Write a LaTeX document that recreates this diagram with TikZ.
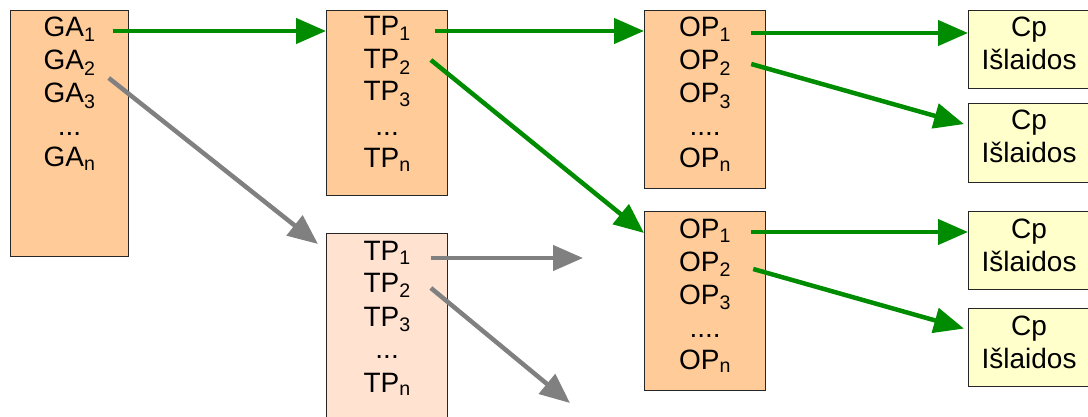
\documentclass[tikz,border=0pt]{standalone}
\usepackage{fontspec}
\setmainfont{Liberation Sans}
\usetikzlibrary{arrows.meta,positioning,calc}
\definecolor{peach}{HTML}{FFCC99}
\definecolor{palepeach}{HTML}{FFE2D0}
\definecolor{paleyel}{HTML}{FFFFCC}
\definecolor{arrgreen}{HTML}{008C00}
\definecolor{arrgray}{HTML}{808080}

\begin{document}
\begin{tikzpicture}[x=1pt,y=-1pt,
  box/.style={draw=black!85,line width=1.2pt,anchor=north west,inner sep=0pt,minimum width=121pt},
  txt/.style={anchor=base,inner sep=0pt,font=\fontsize{28}{32}\selectfont},
  garr/.style={draw=arrgreen,line width=4.5pt,-{Triangle[length=30pt,width=25pt]}},
  grarr/.style={garr,draw=arrgray}]
\useasboundingbox (0,0) rectangle (1088,417);
% GA column
\node[box,fill=peach,minimum width=118pt,minimum height=246pt] (ga) at (10,10) {};
\node[txt] (ga1) at ($(ga.north)+(0,27)$) {GA\textsubscript{1}};\node[txt] (ga2) at ($(ga.north)+(0,60)$) {GA\textsubscript{2}};
\node[txt] (ga3) at ($(ga.north)+(0,93)$) {GA\textsubscript{3}};\node[txt] (gad) at ($(ga.north)+(0,126)$) {...};
\node[txt] (gan) at ($(ga.north)+(0,157)$) {GA\textsubscript{n}};
% TP columns
\node[box,fill=peach,minimum height=185pt] (tpa) at (326,10) {};
\node[txt] (tpa1) at ($(tpa.north)+(0,26)$) {TP\textsubscript{1}};\node[txt] (tpa2) at ($(tpa.north)+(0,59)$) {TP\textsubscript{2}};
\node[txt] (tpa3) at ($(tpa.north)+(0,91)$) {TP\textsubscript{3}};\node[txt] (tpad) at ($(tpa.north)+(0,126)$) {...};
\node[txt] (tpan) at ($(tpa.north)+(0,158)$) {TP\textsubscript{n}};
\node[box,fill=palepeach,minimum height=184pt] (tpb) at (326,233) {};
\node[txt] (tpb1) at ($(tpb.north)+(0,27)$) {TP\textsubscript{1}};\node[txt] (tpb2) at ($(tpb.north)+(0,59)$) {TP\textsubscript{2}};
\node[txt] (tpb3) at ($(tpb.north)+(0,93)$) {TP\textsubscript{3}};\node[txt] (tpbd) at ($(tpb.north)+(0,125)$) {...};
\node[txt] (tpbn) at ($(tpb.north)+(0,159)$) {TP\textsubscript{n}};
% OP columns
\node[box,fill=peach,minimum height=178pt] (opa) at (644,10) {};
\node[txt] (opa1) at ($(opa.north)+(0,27)$) {OP\textsubscript{1}};\node[txt] (opa2) at ($(opa.north)+(0,60)$) {OP\textsubscript{2}};
\node[txt] (opa3) at ($(opa.north)+(0,93)$) {OP\textsubscript{3}};\node[txt] (opad) at ($(opa.north)+(0,126)$) {....};
\node[txt] (opan) at ($(opa.north)+(0,158)$) {OP\textsubscript{n}};
\node[box,fill=peach,minimum height=179pt] (opb) at (644,211) {};
\node[txt] (opb1) at ($(opb.north)+(0,27)$) {OP\textsubscript{1}};\node[txt] (opb2) at ($(opb.north)+(0,60)$) {OP\textsubscript{2}};
\node[txt] (opb3) at ($(opb.north)+(0,93)$) {OP\textsubscript{3}};\node[txt] (opbd) at ($(opb.north)+(0,126)$) {....};
\node[txt] (opbn) at ($(opb.north)+(0,158)$) {OP\textsubscript{n}};
% Cp boxes
\node[box,fill=paleyel,minimum height=78pt] (cpa) at (968,10) {};\node[box,fill=paleyel,minimum height=79pt] (cpb) at (968,103) {};
\node[box,fill=paleyel,minimum height=78pt] (cpc) at (968,211) {};\node[box,fill=paleyel,minimum height=78pt] (cpd) at (968,308) {};
\node[txt] (cpa1) at ($(cpa.north)+(0,27)$) {Cp};\node[txt] (cpa2) at ($(cpa.north)+(0,60)$) {Išlaidos};
\node[txt] (cpb1) at ($(cpb.north)+(0,27)$) {Cp};\node[txt] (cpb2) at ($(cpb.north)+(0,60)$) {Išlaidos};
\node[txt] (cpc1) at ($(cpc.north)+(0,27)$) {Cp};\node[txt] (cpc2) at ($(cpc.north)+(0,60)$) {Išlaidos};
\node[txt] (cpd1) at ($(cpd.north)+(0,27)$) {Cp};\node[txt] (cpd2) at ($(cpd.north)+(0,60)$) {Išlaidos};
% free ends
\coordinate (gaend) at ($(tpb.north west)+(-8,11)$);\coordinate (free1) at (583,258);\coordinate (free2) at (570,403);
% arrows
\draw[garr] ([shift={(17,-6)}]ga1.base east) coordinate (s1) -- (tpa.west |- s1);
\draw[grarr] ([shift={(13,8)}]ga2.base east) -- (gaend);
\draw[garr] ([shift={(24,-5)}]tpa1.base east) coordinate (s2) -- (opa.west |- s2);
\draw[garr] ([shift={(20,-9)}]tpa2.base east) -- ($(opb.north west)+(0,22)$);
\draw[grarr] ([shift={(20,-2)}]tpb1.base east) -- (free1);
\draw[grarr] ([shift={(20,-4)}]tpb2.base east) -- (free2);
\draw[garr] ([shift={(20,-4)}]opa1.base east) coordinate (s3) -- (cpa.west |- s3);
\draw[garr] ([shift={(20,-6)}]opa2.base east) -- ([shift={(-4,-19)}]cpb.west);
\draw[garr] ([shift={(20,-6)}]opb1.base east) coordinate (s4) -- (cpc.west |- s4);
\draw[garr] ([shift={(22,-2)}]opb2.base east) -- ([shift={(-4,-19)}]cpd.west);
\end{tikzpicture}
\end{document}
